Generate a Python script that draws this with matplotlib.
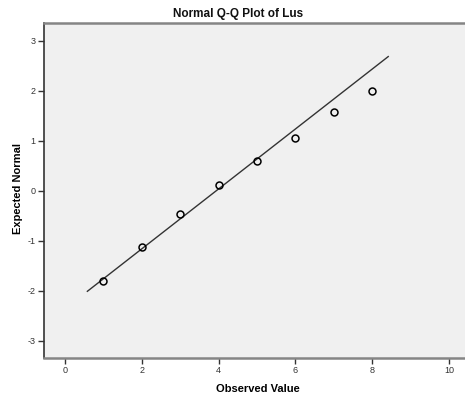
import numpy as np
import matplotlib.pyplot as plt

plt.rcParams["font.family"] = ["Liberation Sans", "DejaVu Sans"]
plt.rcParams["axes.unicode_minus"] = False

# observed values and their expected normal scores
observed = [1, 2, 3, 4, 5, 6, 7, 8]
expected = [-1.80, -1.12, -0.46, 0.13, 0.61, 1.07, 1.57, 1.99]

# reference line: expected = (x - mean) / sd
line_mean = 3.93
line_sd = 1.67
line_range = [0.58, 8.42]

x_ticks = [0, 2, 4, 6, 8, 10]
y_ticks = [-3, -2, -1, 0, 1, 2, 3]

fig = plt.figure(figsize=(4.65, 4.01), dpi=100)
ax = fig.add_axes([44 / 465, 43 / 401, 1 - 44 / 465, 335 / 401])
ax.set_facecolor("#f0f0f0")

lx = np.array(line_range)
ax.plot(lx, (lx - line_mean) / line_sd, color="#333333", lw=1.0, zorder=2)
ax.plot(observed, expected, "o", mfc="none", mec="black", ms=5, mew=1.1, zorder=3)

ax.set_xlim(-0.55, 10.42)
ax.set_ylim(-3.34, 3.36)
ax.set_xticks(x_ticks)
ax.set_yticks(y_ticks)
ax.tick_params(axis="both", direction="out", length=4, width=1, colors="#333333",
               labelsize=6.5, pad=2)

for side in ["top", "bottom"]:
    ax.spines[side].set_color("#858585")
    ax.spines[side].set_linewidth(1.8)
ax.spines["left"].set_color("#333333")
ax.spines["left"].set_linewidth(1.2)
ax.spines["right"].set_visible(False)

fig.text(238 / 465, 1 - 14 / 401, "Normal Q-Q Plot of Lus", ha="center", va="center",
         fontsize=8.5, fontweight="bold", color="#111111")
fig.text(258 / 465, 1 - 389 / 401, "Observed Value", ha="center", va="center",
         fontsize=8, fontweight="bold")
fig.text(18 / 465, 1 - 188 / 401, "Expected Normal", ha="center", va="center",
         rotation=90, fontsize=8, fontweight="bold")

fig.savefig("out.png", dpi=100)
